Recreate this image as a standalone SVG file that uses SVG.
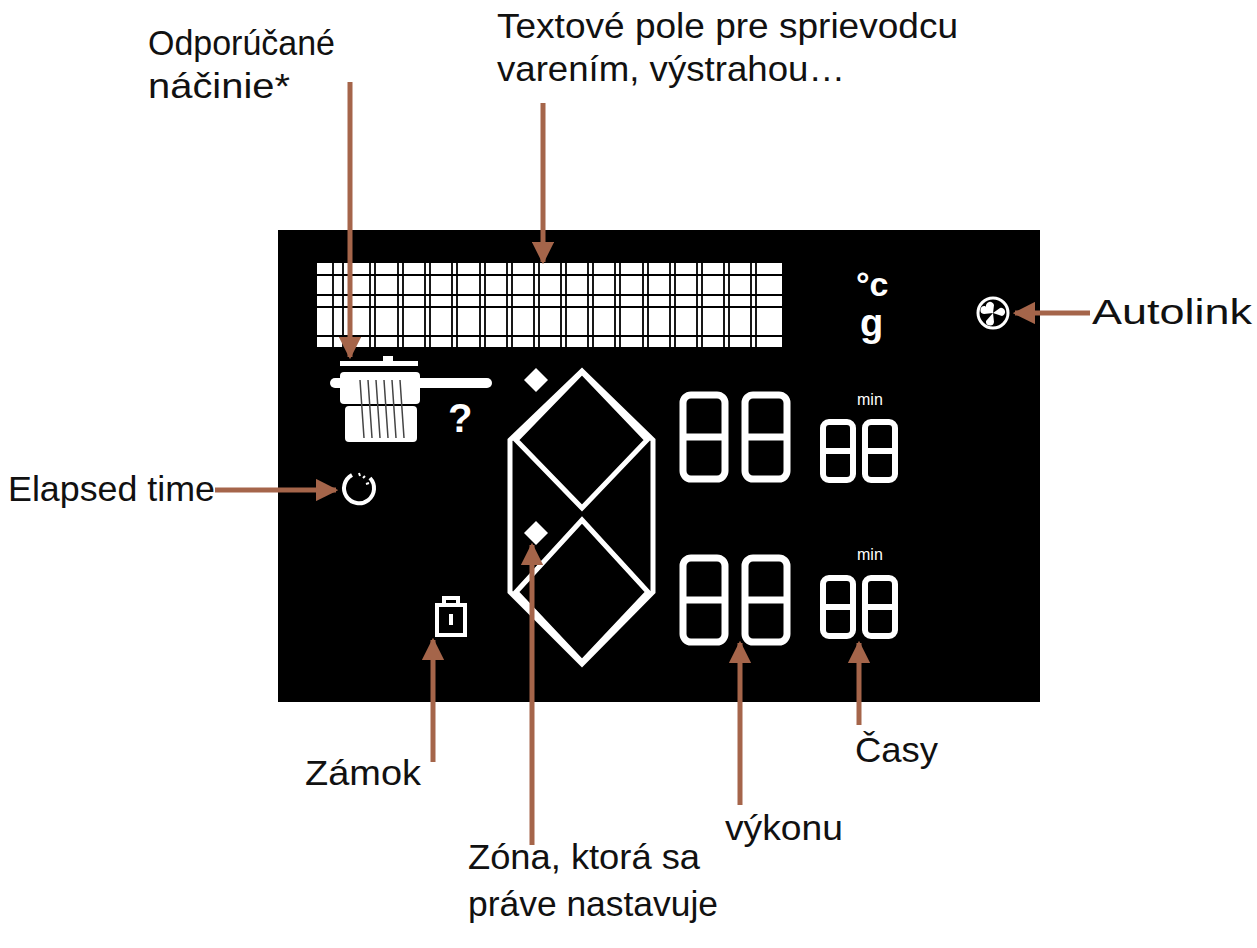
<svg xmlns="http://www.w3.org/2000/svg" width="1257" height="948" viewBox="0 0 1257 948">
<style>
.t{font-family:"Liberation Sans",Arial,sans-serif;font-size:35px;fill:#111}
.a{stroke:#a5654a;stroke-width:5;fill:none}
.w{stroke:#fff;fill:none}
.g{stroke:#000;stroke-width:1.8}
</style>
<defs>
<marker id="h" viewBox="0 0 10 10" refX="9" refY="5" markerWidth="4.5" markerHeight="4.5" orient="auto" markerUnits="strokeWidth"><path d="M0,0L10,5L0,10z" fill="#a5654a"/></marker>
<g id="d"><rect x="3" y="3" width="42" height="84" rx="8" class="w" stroke-width="7"/><line x1="3" y1="45" x2="45" y2="45" class="w" stroke-width="7"/></g>
<g id="sd"><rect x="3" y="3" width="30" height="58" rx="6" class="w" stroke-width="6"/><line x1="3" y1="32" x2="33" y2="32" class="w" stroke-width="6"/></g>
</defs>
<rect width="1257" height="948" fill="#fff"/>
<g id="display">
<rect x="278" y="230" width="762" height="472" fill="#000"/>
<rect x="317" y="263" width="465" height="84" fill="#fff"/>
<g class="g">
<path d="M317,275H782M317,295H782M317,307H782M317,336H782"/>
<path d="M333,263V347M343,263V347M370,263V347M375,263V347M398,263V347M403,263V347M425,263V347M430,263V347M452,263V347M457,263V347M480,263V347M485,263V347M507,263V347M512,263V347M534,263V347M539,263V347M561,263V347M566,263V347M588,263V347M593,263V347M615,263V347M620,263V347M643,263V347M648,263V347M670,263V347M675,263V347M697,263V347M702,263V347M724,263V347M729,263V347M751,263V347M756,263V347"/>
</g>
<text x="856" y="296" font-family="Liberation Sans,Arial,sans-serif" font-size="34" font-weight="bold" fill="#fff">°c</text>
<text x="860" y="336" font-family="Liberation Sans,Arial,sans-serif" font-size="38" font-weight="bold" fill="#fff">g</text>
</g>
<g id="pot">
<rect x="340" y="361" width="78" height="5" fill="#fff"/>
<rect x="383" y="356" width="10" height="6" fill="#fff"/>
<rect x="330" y="378" width="162" height="10" rx="5" fill="#fff"/>
<rect x="340" y="372" width="80" height="32" rx="4" fill="#fff"/>
<rect x="345" y="406" width="72" height="36" rx="4" fill="#fff"/>
<path d="M360,380l4,58M368,380l4,58M376,380l4,58M384,380l4,58M392,380l4,58M400,380l4,58" stroke="#444" stroke-width="1.5"/>
<text x="448" y="432" font-family="Liberation Sans,Arial,sans-serif" font-size="40" font-weight="bold" fill="#fff">?</text>
</g>
<g id="elapsed">
<path d="M370,478A15,15 0 1 1 352,475" class="w" stroke-width="4"/>
<path d="M359,473l1,3M365,476l-2,2M369,483l-3,1" class="w" stroke-width="2"/>
</g>
<g id="lock">
<rect x="437" y="605" width="28" height="30" class="w" stroke-width="4"/>
<path d="M444,605v-7h14v7" class="w" stroke-width="4"/>
<line x1="451" y1="614" x2="451" y2="625" class="w" stroke-width="4"/>
</g>
<g id="zones">
<path d="M582,371L653,440V592L582,664L510,592V440Z" class="w" stroke-width="5"/>
<path d="M582,372L647,440L582,508L516,440Z" class="w" stroke-width="5"/>
<path d="M582,520L648,592L582,662L516,592Z" class="w" stroke-width="5"/>
<path d="M536,368l12,12l-12,12l-12,-12z" fill="#fff"/>
<path d="M536,521l12,12l-12,12l-12,-12z" fill="#fff"/>
</g>
<g id="digits">
<use href="#d" x="680" y="392"/><use href="#d" x="742" y="392"/>
<use href="#d" x="680" y="555"/><use href="#d" x="742" y="555"/>
<use href="#sd" x="820" y="419"/><use href="#sd" x="862" y="419"/>
<use href="#sd" x="820" y="575"/><use href="#sd" x="862" y="575"/>
<text x="857" y="405" font-family="Liberation Sans,Arial,sans-serif" font-size="16" fill="#fff">min</text>
<text x="857" y="560" font-family="Liberation Sans,Arial,sans-serif" font-size="16" fill="#fff">min</text>
</g>
<g id="autolink-icon">
<circle cx="993" cy="313" r="15" class="w" stroke-width="3"/>
<path d="M993,313l-7,-6a4,4 0 0 1 8,-2zM993,313l7,-5a4,4 0 0 1 2,8zM993,313l1,9a4,4 0 0 1 -8,-1zM993,313l-9,1a4,4 0 0 1 1,-8z" fill="#fff"/>
</g>
<g id="connectors">
<line x1="350" y1="82" x2="350" y2="357" class="a" marker-end="url(#h)"/>
<line x1="543" y1="103" x2="543" y2="262" class="a" marker-end="url(#h)"/>
<line x1="1090" y1="313" x2="1015" y2="313" class="a" marker-end="url(#h)"/>
<line x1="215" y1="490" x2="336" y2="490" class="a" marker-end="url(#h)"/>
<line x1="433" y1="762" x2="433" y2="640" class="a" marker-end="url(#h)"/>
<line x1="532" y1="845" x2="532" y2="545" class="a" marker-end="url(#h)"/>
<line x1="740" y1="805" x2="740" y2="643" class="a" marker-end="url(#h)"/>
<line x1="859" y1="725" x2="859" y2="643" class="a" marker-end="url(#h)"/>
</g>
<g id="labels">
<text class="t" x="148" y="55" textLength="187" lengthAdjust="spacingAndGlyphs">Odporúčané</text>
<text class="t" x="148" y="98" textLength="142" lengthAdjust="spacingAndGlyphs">náčinie*</text>
<text class="t" x="497" y="38" textLength="461" lengthAdjust="spacingAndGlyphs">Textové pole pre sprievodcu</text>
<text class="t" x="497" y="81" textLength="348" lengthAdjust="spacingAndGlyphs">varením, výstrahou…</text>
<text class="t" x="1092" y="324" textLength="160" lengthAdjust="spacingAndGlyphs">Autolink</text>
<text class="t" x="8" y="501" textLength="207" lengthAdjust="spacingAndGlyphs">Elapsed time</text>
<text class="t" x="305" y="785" textLength="116" lengthAdjust="spacingAndGlyphs">Zámok</text>
<text class="t" x="725" y="840" textLength="118" lengthAdjust="spacingAndGlyphs">výkonu</text>
<text class="t" x="855" y="762" textLength="83" lengthAdjust="spacingAndGlyphs">Časy</text>
<text class="t" x="468" y="869" textLength="232" lengthAdjust="spacingAndGlyphs">Zóna, ktorá sa</text>
<text class="t" x="468" y="916" textLength="250" lengthAdjust="spacingAndGlyphs">práve nastavuje</text>
</g>
</svg>
